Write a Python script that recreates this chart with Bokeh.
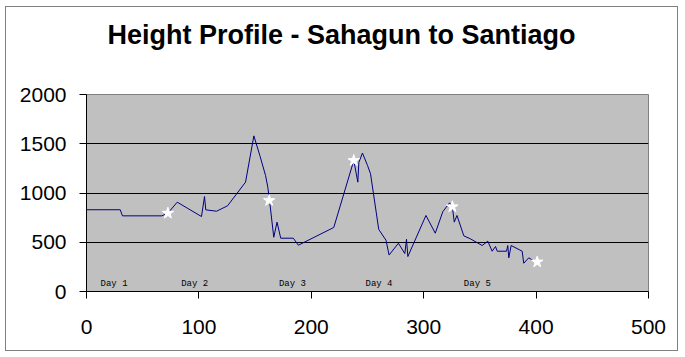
from bokeh.plotting import figure
from bokeh.models import Range1d, FixedTicker, ColumnDataSource, Div
from bokeh.layouts import column
from bokeh.core.properties import value
from bokeh.embed import file_html
from bokeh.resources import INLINE

# Distance (km) and height (m) along the route
distance_km = [0, 30, 32, 67, 72.4, 80.7, 102.3, 105, 106.1, 115.7, 125.5, 141.5,
               148.9, 154.2, 159.3, 161.3, 162.8, 166.6, 169.5, 172.8, 184, 188.5,
               220, 237.8, 241.4, 242.3, 245.5, 250, 252.7, 260, 266.5, 269.2,
               277.5, 283.2, 284.7, 285.9, 302, 310.3, 317, 323, 325.5, 327.2,
               329.6, 335.7, 341.5, 352, 357, 360.9, 363.9, 365.4, 373.7, 374.8,
               375.7, 377.8, 387.6, 389, 393.5, 397.4, 401]
height_m = [830, 830, 768, 768, 795, 907, 761, 964, 829, 815, 870, 1110,
            1580, 1381, 1178, 1059, 928, 551, 704, 541, 541, 470,
            650, 1330, 1110, 1310, 1406, 1280, 1195, 630, 520, 370,
            490, 385, 530, 355, 772, 592, 810, 900, 860, 704,
            772, 565, 535, 467, 511, 409, 457, 409, 409, 467,
            342, 467, 409, 287, 342, 315, 300]

# Overnight stops (stars)
stop_km = [72.4, 162.5, 237.8, 325.5, 401]
stop_m = [795, 924, 1330, 860, 300]

# Day labels
day_labels = ["Day 1", "Day 2", "Day 3", "Day 4", "Day 5"]
day_km = [12.5, 84.2, 171.2, 248.2, 335.7]
day_m = [81, 81, 81, 81, 81]

x_ticks = [0, 100, 200, 300, 400, 500]
y_ticks = [0, 500, 1000, 1500, 2000]

title_text = "Height Profile - Sahagun to Santiago"

head = Div(text=title_text, width=671, height=56, margin=(0, 0, 0, 0),
           styles={"font-family": "'Liberation Sans', Arial, sans-serif",
                   "font-size": "27px", "font-weight": "bold", "color": "black",
                   "text-align": "center", "line-height": "56px",
                   "background-color": "white"})

p = figure(width=671, height=287, output_backend="svg", toolbar_location=None,
           x_range=Range1d(0, 500), y_range=Range1d(0, 2000),
           min_border_left=80, min_border_right=29, min_border_top=31,
           min_border_bottom=59, margin=(0, 0, 0, 0))

p.background_fill_color = "#C0C0C0"
p.border_fill_color = "white"
p.outline_line_color = "#808080"

p.xgrid.visible = False
p.ygrid.grid_line_color = "black"
p.ygrid.grid_line_width = 1

for ax, ticks, so in ((p.xaxis[0], x_ticks, 21), (p.yaxis[0], y_ticks, 13)):
    ax.ticker = FixedTicker(ticks=ticks)
    ax.minor_tick_line_color = None
    ax.major_tick_in = 0
    ax.major_tick_out = 7
    ax.axis_line_color = "black"
    ax.major_tick_line_color = "black"
    ax.major_label_text_font = "Liberation Sans"
    ax.major_label_text_font_size = "21px"
    ax.major_label_text_color = "black"
    ax.major_label_standoff = so

src = ColumnDataSource(dict(x=distance_km, y=height_m))
p.line("x", "y", source=src, line_color="#000080", line_width=1)

p.scatter(stop_km, stop_m, marker="star", size=12, fill_color="white",
          line_color="white")

p.text(day_km, day_m, text=day_labels, text_font=value("Liberation Mono"),
       text_font_size="9px", text_baseline="middle", text_align="left",
       text_color="black")

layout = column(head, p, spacing=0)
layout.styles = {"border": "1px solid #808080", "margin-left": "5px",
                 "margin-top": "6px", "background-color": "white"}

open("out.html", "w").write(file_html(layout, INLINE))
